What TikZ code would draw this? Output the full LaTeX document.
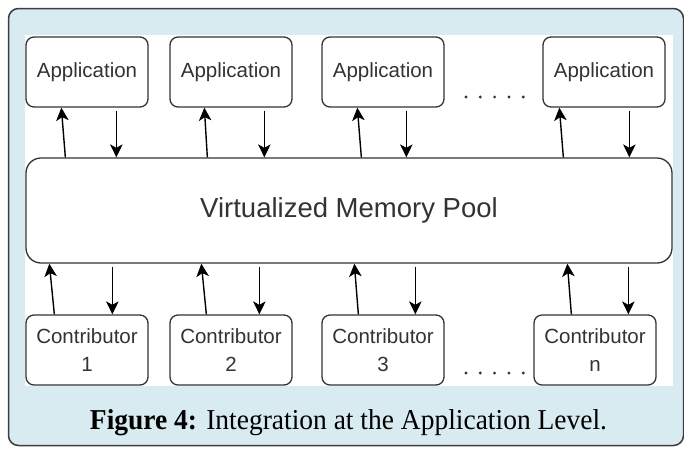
\documentclass[tikz,border=0pt]{standalone}
\usepackage{fontspec}
\setmainfont{Liberation Sans}
\newfontfamily\capfont{Liberation Serif}
\usetikzlibrary{arrows.meta,calc}
\definecolor{framefill}{RGB}{215,235,241}
\definecolor{inkgrey}{RGB}{51,51,51}
\definecolor{framegrey}{RGB}{60,60,60}
\tikzset{
  unit/.style={draw=inkgrey, line width=1.3pt, rounded corners=8pt, fill=white,
    minimum width=122pt, minimum height=70pt, inner sep=0pt, text=inkgrey,
    font=\fontsize{20.5}{28}\selectfont, align=center},
  poolbox/.style={draw=inkgrey, line width=1.3pt, rounded corners=15pt, fill=white,
    minimum width=646pt, minimum height=105pt, inner sep=0pt, text=inkgrey,
    font=\fontsize{27.5}{33}\selectfont},
  linkarrow/.style={draw=black, line width=1.4pt,
    arrows={-Stealth[length=13pt,width=12.5pt,inset=3.5pt]}},
  dot/.style={fill=inkgrey, circle, inner sep=0pt, minimum size=3.2pt}
}
\begin{document}
\begin{tikzpicture}[x=1pt,y=-1pt]
\useasboundingbox (0,0) rectangle (684,448);
% outer frame and white drawing area
\draw[framegrey, line width=1.5pt, fill=framefill, rounded corners=10pt] (8.5,8.5) rectangle (683.5,445.5);
\fill[white] (25,35) rectangle (673,386);

% applications
\node[unit] (a1) at (87,72) {Application};
\node[unit] (a2) at (231,72) {Application};
\node[unit] (a3) at (383,72) {Application};
\node[unit] (a4) at (604,72) {Application};

% pool
\node[poolbox] (pool) at (349,210.5) {Virtualized Memory Pool};

% contributors
\node[unit] (c1) at (87,350) {Contributor\\1};
\node[unit] (c2) at (231,350) {Contributor\\2};
\node[unit] (c3) at (383,350) {Contributor\\3};
\node[unit] (c4) at (595,350) {Contributor\\n};

% ellipses between the last two columns
\foreach \i in {0,...,4} {
  \node[dot] (ta\i) at (466+14.3*\i,97) {};
  \node[dot] (tc\i) at (466+14.3*\i,373) {};
}

% pool <-> applications
\path[linkarrow] ([xshift=40pt]pool.north west) -- ([xshift=36pt]a1.south west);
\path[linkarrow] ([xshift=91pt,yshift=-3pt]a1.south west) -- ([xshift=91pt]pool.north west);
\path[linkarrow] ([xshift=182pt]pool.north west) -- ([xshift=35pt]a2.south west);
\path[linkarrow] ([xshift=95pt,yshift=-3pt]a2.south west) -- ([xshift=239pt]pool.north west);
\path[linkarrow] ([xshift=336pt]pool.north west) -- ([xshift=36pt]a3.south west);
\path[linkarrow] ([xshift=85pt,yshift=-3pt]a3.south west) -- ([xshift=381pt]pool.north west);
\path[linkarrow] ([xshift=538pt]pool.north west) -- ([xshift=17pt]a4.south west);
\path[linkarrow] ([xshift=87pt,yshift=-3pt]a4.south west) -- ([xshift=604pt]pool.north west);

% contributors <-> pool
\path[linkarrow] ([xshift=29pt]c1.north west) -- ([xshift=24pt]pool.south west);
\path[linkarrow] ([xshift=87pt,yshift=-3pt]pool.south west) -- ([xshift=87pt]c1.north west);
\path[linkarrow] ([xshift=37pt]c2.north west) -- ([xshift=176pt]pool.south west);
\path[linkarrow] ([xshift=234pt,yshift=-3pt]pool.south west) -- ([xshift=90pt]c2.north west);
\path[linkarrow] ([xshift=37pt]c3.north west) -- ([xshift=329pt]pool.south west);
\path[linkarrow] ([xshift=390pt,yshift=-3pt]pool.south west) -- ([xshift=94pt]c3.north west);
\path[linkarrow] ([xshift=38pt]c4.north west) -- ([xshift=542pt]pool.south west);
\path[linkarrow] ([xshift=603pt,yshift=-3pt]pool.south west) -- ([xshift=95pt]c4.north west);

% caption
\node[anchor=base, inner sep=0pt] (cap) at (348.5,429)
  {\resizebox{517pt}{20pt}{\capfont\fontsize{20}{24}\selectfont\textbf{Figure 4:} Integration at the Application Level.}};
\end{tikzpicture}
\end{document}
